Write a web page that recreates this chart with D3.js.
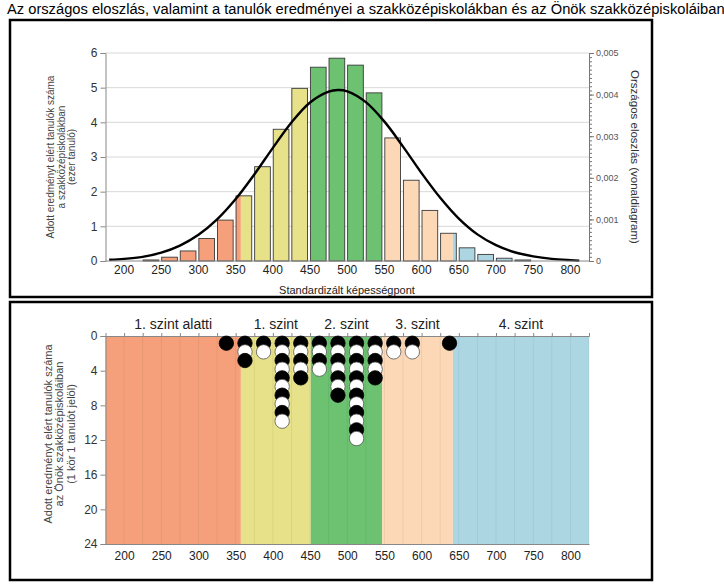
<!DOCTYPE html>
<html><head><meta charset="utf-8">
<script src="https://cdn.jsdelivr.net/npm/d3@7"></script>
<style>
body{margin:0;background:#fff;}
text{font-family:"Liberation Sans",Arial,sans-serif;}
</style></head>
<body><svg id="c" width="724" height="587"></svg>
<script>
// ---- data ----
const binStarts = [225,250,275,300,325,350,375,400,425,450,475,500,525,550,575,600,625,650,675,700,725];
const binValues = [0.03,0.11,0.29,0.65,1.18,1.88,2.72,3.80,4.98,5.59,5.85,5.65,4.85,3.55,2.33,1.46,0.80,0.38,0.19,0.08,0.03];
const curveX = [180,200,225,250,275,300,325,350,375,400,425,450,475,487.5,500,525,550,575,600,625,650,675,700,725,750,775,800,812];
const curveY = [0.00003,0.00005,0.00010,0.00020,0.00037,0.00063,0.00100,0.00149,0.00208,0.00272,0.00333,0.00381,0.00407,0.00411,0.00408,0.00382,0.00335,0.00275,0.00211,0.00152,0.00102,0.00064,0.00038,0.00021,0.00011,0.00005,0.00002,0.00001];
const levelNames = ["1. szint alatti","1. szint","2. szint","3. szint","4. szint"];
const levelBounds = [175,357,451,547,642,825];
const levelColors = ["#F5A07A","#E7E18A","#6CC271","#FCD8B6","#ADD6E3"];
const dotColumns = [337.5,362.5,387.5,412.5,437.5,462.5,487.5,512.5,537.5,562.5,587.5,637.5];
const dotCounts = [1,3,2,10,5,4,7,12,5,2,2,1];
const xTicks = [200,250,300,350,400,450,500,550,600,650,700,750,800];
const yTicksTop = [0,1,2,3,4,5,6];
const yTicksRight = [0,0.001,0.002,0.003,0.004,0.005];
const yTicksBottom = [0,4,8,12,16,20,24];

const svg = d3.select("#c");
const x = d3.scaleLinear().domain([175,825]).range([105.5,589]);
const yT = d3.scaleLinear().domain([0,6]).range([261,53]);
const yR = d3.scaleLinear().domain([0,0.005]).range([261,53]);
const yB = d3.scaleLinear().domain([0,24]).range([336,544]);
const fmt = d => d===0 ? "0" : d3.format(".3f")(d).replace(".",",");

// title
svg.append("text").attr("x",7).attr("y",14).attr("font-size",14.7).attr("fill","#000")
  .text("Az országos eloszlás, valamint a tanulók eredményei a szakközépiskolákban és az Önök szakközépiskoláiban");

// boxes
svg.append("rect").attr("x",10).attr("y",20).attr("width",642).attr("height",277).attr("fill","none").attr("stroke","#000").attr("stroke-width",2.5);
svg.append("rect").attr("x",10).attr("y",302).attr("width",642).attr("height",278).attr("fill","none").attr("stroke","#000").attr("stroke-width",2.5);

// ---- top chart ----
const gTop = svg.append("g");
gTop.selectAll("line.grid").data(yTicksTop.slice(1)).join("line")
  .attr("x1",x(175)).attr("x2",x(825)).attr("y1",d=>yT(d)).attr("y2",d=>yT(d))
  .attr("stroke","#d8d8d8").attr("stroke-width",1);
function colorSegments(a,b){
  const segs=[];
  for(let i=0;i<levelColors.length;i++){
    const s=Math.max(a,levelBounds[i]), e=Math.min(b,levelBounds[i+1]);
    if(e>s) segs.push({s,e,c:levelColors[i]});
  }
  return segs;
}
const barW = 21.6;
binStarts.forEach((b,i)=>{
  const v=binValues[i];
  const a=b+0.5, e=b+barW;
  colorSegments(a,e).forEach(sg=>{
    gTop.append("rect").attr("x",x(sg.s)).attr("width",x(sg.e)-x(sg.s))
      .attr("y",yT(v)).attr("height",yT(0)-yT(v)).attr("fill",sg.c);
  });
  gTop.append("rect").attr("x",x(a)).attr("width",x(e)-x(a))
    .attr("y",yT(v)).attr("height",yT(0)-yT(v)).attr("fill","none")
    .attr("stroke","#3a3a3a").attr("stroke-width",0.9);
});
const line = d3.line().x((d,i)=>x(curveX[i])).y(d=>yR(d)).curve(d3.curveCatmullRom);
gTop.append("path").attr("d",line(curveY)).attr("fill","none").attr("stroke","#000").attr("stroke-width",2.4);
gTop.append("line").attr("x1",x(175)).attr("x2",x(825)).attr("y1",yT(0)).attr("y2",yT(0)).attr("stroke","#888");
const la = gTop.append("g").attr("transform",`translate(${x(175)},0)`)
  .call(d3.axisLeft(yT).tickValues(yTicksTop).tickFormat(d3.format("d")).tickSize(5).tickPadding(3));
la.select(".domain").attr("stroke","#888");
la.selectAll(".tick line").attr("stroke","#888");
la.selectAll("text").attr("font-size",12).attr("fill","#333").attr("font-family","Liberation Sans, Arial");
const ra = gTop.append("g").attr("transform",`translate(${x(825)},0)`);
ra.call(d3.axisRight(yR).tickValues(d3.range(0,51).map(i=>i*0.0001)).tickSize(3).tickFormat(""));
ra.selectAll(".tick line").attr("stroke","#777");
const ra2 = gTop.append("g").attr("transform",`translate(${x(825)},0)`)
  .call(d3.axisRight(yR).tickValues(yTicksRight).tickSize(5).tickPadding(2).tickFormat(fmt));
ra.select(".domain").attr("stroke","#777");
ra2.select(".domain").attr("stroke","#777");
ra2.selectAll(".tick line").attr("stroke","#777");
ra2.selectAll("text").attr("font-size",9).attr("fill","#555").attr("font-family","Liberation Sans, Arial");
gTop.selectAll("text.xl").data(xTicks).join("text").attr("class","xl")
  .attr("x",d=>x(d)).attr("y",274).attr("text-anchor","middle").attr("font-size",12).attr("fill","#222").text(d=>d);
gTop.append("text").attr("x",347).attr("y",294).attr("text-anchor","middle").attr("font-size",11).attr("fill","#222").text("Standardizált képességpont");
const lt = gTop.append("text").attr("transform","translate(61,157) rotate(-90)").attr("text-anchor","middle").attr("font-size",10).attr("fill","#444");
["Adott eredményt elért tanulók száma","a szakközépiskolákban","(ezer tanuló)"].forEach((t,i)=>{
  lt.append("tspan").attr("x",0).attr("y",(i-1)*10.5).attr("dominant-baseline","central").text(t);
});
gTop.append("text").attr("transform","translate(635,157) rotate(90)").attr("text-anchor","middle")
  .attr("dominant-baseline","central").attr("font-size",11.5).attr("fill","#333").text("Országos eloszlás (vonaldiagram)");

// ---- bottom chart ----
const gBot = svg.append("g");
levelColors.forEach((c,i)=>{
  gBot.append("rect").attr("x",x(levelBounds[i])).attr("width",x(levelBounds[i+1])-x(levelBounds[i]))
    .attr("y",yB(0)).attr("height",yB(24)-yB(0)).attr("fill",c);
});
gBot.selectAll("line.st").data(d3.range(200,826,25)).join("line")
  .attr("x1",d=>x(d)).attr("x2",d=>x(d)).attr("y1",yB(0)).attr("y2",yB(24))
  .attr("stroke","#000").attr("stroke-opacity",0.06).attr("stroke-width",1);
levelNames.forEach((n,i)=>{
  gBot.append("text").attr("x",(x(levelBounds[i])+x(levelBounds[i+1]))/2).attr("y",329)
    .attr("text-anchor","middle").attr("font-size",14).attr("fill","#222").text(n);
});
const ta = gBot.append("g").attr("transform",`translate(0,${yB(0)})`)
  .call(d3.axisTop(x).tickValues(d3.range(200,826,25)).tickSize(3).tickFormat(""));
ta.select(".domain").attr("stroke","#888");
ta.selectAll(".tick line").attr("stroke","#888");
const ba = gBot.append("g").attr("transform",`translate(0,${yB(24)})`)
  .call(d3.axisBottom(x).tickValues(xTicks).tickSize(0).tickPadding(7));
ba.select(".domain").attr("stroke","#888");
ba.selectAll("text").attr("font-size",12).attr("fill","#222").attr("font-family","Liberation Sans, Arial");
const lb = gBot.append("g").attr("transform",`translate(${x(175)},0)`)
  .call(d3.axisLeft(yB).tickValues(yTicksBottom).tickSize(5).tickPadding(3));
lb.select(".domain").attr("stroke","#888");
lb.selectAll(".tick line").attr("stroke","#888");
lb.selectAll("text").attr("font-size",12).attr("fill","#333").attr("font-family","Liberation Sans, Arial");
const r = 7.2;
dotColumns.forEach((cx,j)=>{
  d3.range(dotCounts[j]).forEach(k=>{
    gBot.append("circle").attr("cx",x(cx)).attr("cy",yB(k)+r).attr("r",r)
      .attr("fill",k%2===0?"#000":"#fff").attr("stroke",k%2===0?"#000":"#555").attr("stroke-width",0.8);
  });
});
const bt = gBot.append("text").attr("transform","translate(59,434) rotate(-90)").attr("text-anchor","middle").attr("font-size",11).attr("fill","#444");
["Adott eredményt elért tanulók száma","az Önök szakközépiskoláiban","(1 kör 1 tanulót jelöl)"].forEach((t,i)=>{
  bt.append("tspan").attr("x",0).attr("y",(i-1)*11.5).attr("dominant-baseline","central").text(t);
});
</script></body></html>
